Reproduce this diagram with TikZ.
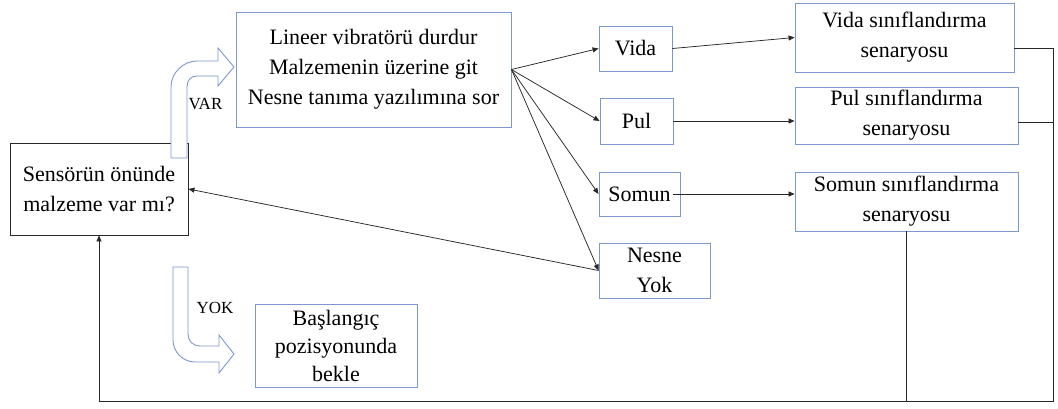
\documentclass[tikz,border=0pt]{standalone}
\usepackage{fontspec}
\setmainfont{Liberation Serif}
\usetikzlibrary{arrows.meta}
\definecolor{boxblue}{RGB}{125,152,205}
\definecolor{linegray}{RGB}{40,40,40}
\begin{document}
\begin{tikzpicture}[x=1pt,y=-1pt,
  txt/.style={font=\fontsize{22}{30}\selectfont, align=center},
  bbox/.style={txt, draw=boxblue, line width=0.9pt, inner sep=0pt},
  kbox/.style={txt, draw=linegray, line width=0.9pt, inner sep=0pt},
  conn/.style={draw=linegray, line width=0.75pt},
  arr/.style={conn, -{Triangle[length=6pt,width=5pt]}},
  bigarrow/.style={draw=boxblue, fill=white, line width=0.9pt, line join=miter},
  lbl/.style={font=\fontsize{17}{18}\selectfont, inner sep=0pt}
]
\useasboundingbox (0,0) rectangle (1058,408);

% nodes
\node[kbox, minimum width=178pt, minimum height=92pt] (sensor) at (99,189) {Sensörün önünde\\malzeme var mı?};
\node[bbox, minimum width=275pt, minimum height=115pt] (main) at (373.5,69.5) {Lineer vibratörü durdur\\Malzemenin üzerine git\\Nesne tanıma yazılımına sor};
\node[bbox, minimum width=73pt, minimum height=45pt] (vida) at (635.5,48.5) {Vida};
\node[bbox, minimum width=73pt, minimum height=46pt] (pul) at (636.5,121) {Pul};
\node[bbox, minimum width=81pt, minimum height=44pt] (somun) at (639.5,194) {Somun};
\node[bbox, minimum width=111pt, minimum height=55pt] (nesne) at (654.5,270.5) {Nesne\\Yok};
\node[bbox, minimum width=219pt, minimum height=69pt] (vidaS) at (904.5,37.5) {Vida sınıflandırma\\senaryosu};
\node[bbox, minimum width=223pt, minimum height=57pt] (pulS) at (906.5,115.5) {Pul sınıflandırma\\senaryosu};
\node[bbox, minimum width=223pt, minimum height=59pt] (somunS) at (906.5,201.5) {Somun sınıflandırma\\senaryosu};
\node[bbox, minimum width=162pt, minimum height=83pt, font=\fontsize{22}{28}\selectfont] (basl) at (336,345.5) {Başlangıç\\pozisyonunda\\bekle};

% block arrows
\draw[bigarrow] (171,158) -- (171,87) .. controls (171,73) and (183,61) .. (197,61)
  -- (218,61) -- (218,48) -- (234,67) -- (218,86) -- (218,76) -- (197,76)
  .. controls (191,76) and (187,80) .. (187,87) -- (187,158) -- cycle;
\node[lbl] (var) at (205.5,104) {VAR};

\draw[bigarrow] (173,267) -- (173,340) .. controls (173,352) and (183,362) .. (195,362)
  -- (219,362) -- (219,373) -- (234,354) -- (219,335) -- (219,346) -- (200,346)
  .. controls (193,346) and (188,341) .. (188,334) -- (188,267) -- cycle;
\node[lbl] (yok) at (215,307.5) {YOK};

% branch arrows
\draw[arr] (main.east) -- (vida.west);
\draw[arr] (main.east) -- (pul.west);
\draw[arr] (main.east) -- (somun.west);
\draw[arr] (main.east) -- (nesne.west);
\draw[arr] (nesne.west) -- (sensor.east);

\draw[arr] (vida.east) -- (vidaS.west);
\draw[arr] (pul.east) -- (pul.east -| pulS.west);
\draw[arr] ([xshift=-7pt]somun.east) -- (somun.east -| somunS.west);

% return path
\coordinate (rv) at (1053,48);
\coordinate (rp) at (1053,122);
\coordinate (rb) at (1053,401);
\coordinate (lb) at (99,401);
\draw[conn] ([yshift=-10.5pt]vidaS.east) -- (rv) -- (rp);
\draw[arr] ([yshift=-6.5pt]pulS.east) -- (rp) -- (rb) -- (lb) -- (sensor.south);
\draw[conn] (somunS.south) -- (somunS.south |- rb);
\end{tikzpicture}
\end{document}
